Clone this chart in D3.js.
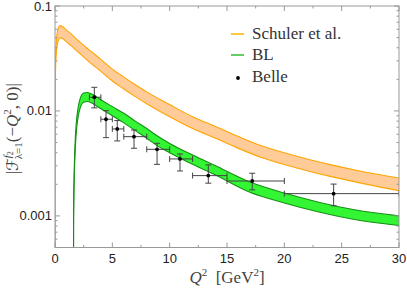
<!DOCTYPE html>
<html>
<head>
<meta charset="utf-8">
<script src="https://cdn.jsdelivr.net/npm/d3@7"></script>
<style>
  body { margin: 0; background: #fff; }
  svg { display: block; }
</style>
</head>
<body>
<div id="chart"></div>
<script>
// Schuler et al. band (upper / lower edge)
const schulerQ2 = [0, 0.02, 0.05, 0.1, 0.2, 0.3, 0.45, 0.7, 1.0, 1.5, 2, 3, 4, 5, 6, 7, 8, 10, 12, 14, 16, 18, 21, 24, 27, 30];
const schulerUpper = [0.00001, 0.020, 0.032, 0.044, 0.056, 0.062, 0.065, 0.063, 0.059, 0.053, 0.047, 0.038, 0.031, 0.025, 0.021, 0.0178, 0.0152, 0.0115, 0.0088, 0.0071, 0.0057, 0.00465, 0.00372, 0.00308, 0.00262, 0.00230];
const schulerLower = [0.00001, 0.015, 0.0245, 0.034, 0.043, 0.0475, 0.0497, 0.0487, 0.0455, 0.041, 0.0365, 0.0292, 0.0238, 0.0193, 0.0162, 0.0137, 0.0117, 0.0088, 0.0068, 0.0055, 0.0044, 0.00360, 0.00288, 0.00238, 0.00202, 0.00174];

// BL band
const blQ2 = [1.6, 1.62, 1.66, 1.74, 1.85, 2.0, 2.2, 2.5, 2.8, 3.2, 3.6, 4, 5, 6, 7, 8, 9, 10, 12, 14, 17, 20, 23, 26, 30];
const blUpper = [0.00001, 0.0010, 0.0022, 0.0046, 0.0075, 0.0105, 0.0132, 0.0148, 0.0150, 0.0145, 0.0137, 0.0128, 0.0110, 0.0095, 0.0080, 0.0068, 0.0057, 0.0049, 0.0038, 0.0030, 0.0021, 0.00165, 0.00135, 0.00115, 0.00100];
const blLower = [0.00001, 0.0008, 0.0018, 0.0037, 0.0061, 0.0085, 0.0107, 0.0121, 0.0123, 0.0119, 0.0112, 0.0105, 0.0090, 0.0077, 0.0065, 0.0055, 0.0046, 0.0040, 0.0031, 0.00245, 0.00168, 0.00133, 0.00109, 0.00093, 0.00081];

// Belle data
const belleQ2 = [3.43, 4.45, 5.43, 6.89, 8.9, 10.9, 13.37, 17.2, 24.3];
const belleVal = [0.0135, 0.00834, 0.00674, 0.00569, 0.00431, 0.00349, 0.00242, 0.00215, 0.00163];
const belleErrLo = [0.0107, 0.00557, 0.00518, 0.00441, 0.0031, 0.00268, 0.00205, 0.00177, 0.00125];
const belleErrHi = [0.0168, 0.01007, 0.0081, 0.00658, 0.00492, 0.00389, 0.00306, 0.00255, 0.00201];
const belleBinLo = [3, 4, 5, 6, 8, 10, 12, 15, 20];
const belleBinHi = [4, 5, 6, 8, 10, 12, 15, 20, 30];

const xTicks = [0, 5, 10, 15, 20, 25, 30];
const yTicks = [0.001, 0.01, 0.1];
const yTickLabels = ['0.001', '0.01', '0.1'];

const W = 407, H = 291;
const margin = {top: 6, right: 8, bottom: 43.5, left: 55};

const svg = d3.select('#chart').append('svg')
  .attr('width', W).attr('height', H);

const x = d3.scaleLinear().domain([0, 30]).range([margin.left, W - margin.right]);
const y = d3.scaleLog().domain([0.0005, 0.1]).range([H - margin.bottom, margin.top]);

svg.append('clipPath').attr('id', 'plot-clip')
  .append('rect')
  .attr('x', x(0)).attr('y', y(0.1))
  .attr('width', x(30) - x(0)).attr('height', y(0.0005) - y(0.1));

const plot = svg.append('g').attr('clip-path', 'url(#plot-clip)');

function band(q2, up, lo, fill, stroke) {
  const rows = q2.map((q, i) => ({q, up: up[i], lo: lo[i]}));
  const area = d3.area()
    .x(d => x(d.q)).y0(d => y(d.lo)).y1(d => y(d.up))
    .curve(d3.curveMonotoneX);
  plot.append('path').datum(rows)
    .attr('d', area).attr('fill', fill).attr('stroke', 'none');
  ['up', 'lo'].forEach(k => {
    plot.append('path').datum(rows)
      .attr('d', d3.line().x(d => x(d.q)).y(d => y(d[k])).curve(d3.curveMonotoneX))
      .attr('fill', 'none').attr('stroke', stroke).attr('stroke-width', 1.1);
  });
}

band(schulerQ2, schulerUpper, schulerLower, '#ffcc99', '#ffa500');
band(blQ2, blUpper, blLower, '#33f533', '#159015');

// Belle error bars
const belle = belleQ2.map((q, i) => ({
  q, v: belleVal[i], lo: belleErrLo[i], hi: belleErrHi[i], b0: belleBinLo[i], b1: belleBinHi[i]
}));
const eb = plot.append('g').attr('stroke', '#444').attr('stroke-width', 1);
const cap = 3;
belle.forEach(d => {
  eb.append('line').attr('x1', x(d.q)).attr('x2', x(d.q)).attr('y1', y(d.lo)).attr('y2', y(d.hi));
  eb.append('line').attr('x1', x(d.b0)).attr('x2', x(d.b1)).attr('y1', y(d.v)).attr('y2', y(d.v));
  [d.lo, d.hi].forEach(v => eb.append('line')
    .attr('x1', x(d.q) - cap).attr('x2', x(d.q) + cap).attr('y1', y(v)).attr('y2', y(v)));
  [d.b0, d.b1].forEach(b => eb.append('line')
    .attr('x1', x(b)).attr('x2', x(b)).attr('y1', y(d.v) - cap).attr('y2', y(d.v) + cap));
});
plot.selectAll('circle.belle').data(belle).enter().append('circle')
  .attr('class', 'belle')
  .attr('cx', d => x(d.q)).attr('cy', d => y(d.v)).attr('r', 1.9).attr('fill', '#000');

// Frame
const frameColor = '#999';
svg.append('rect')
  .attr('x', x(0)).attr('y', y(0.1))
  .attr('width', x(30) - x(0)).attr('height', y(0.0005) - y(0.1))
  .attr('fill', 'none').attr('stroke', frameColor).attr('stroke-width', 1);

// Frame ticks
const tk = svg.append('g').attr('stroke', frameColor).attr('stroke-width', 1);
const xMinor = d3.range(0, 30.01, 2.5);
xMinor.forEach(v => {
  const len = v % 5 === 0 ? 5 : 2.5;
  tk.append('line').attr('x1', x(v)).attr('x2', x(v)).attr('y1', y(0.0005)).attr('y2', y(0.0005) - len);
  tk.append('line').attr('x1', x(v)).attr('x2', x(v)).attr('y1', y(0.1)).attr('y2', y(0.1) + len);
});
const yMinor = [];
[0.0001, 0.001, 0.01].forEach(dec => { for (let m = 1; m < 10; m++) { const v = dec * m; if (v >= 0.0005 && v <= 0.1) yMinor.push(v); } });
yMinor.push(0.1);
yMinor.forEach(v => {
  const major = yTicks.some(t => Math.abs(t - v) / t < 1e-6);
  const len = major ? 5 : 2.5;
  tk.append('line').attr('x1', x(0)).attr('x2', x(0) + len).attr('y1', y(v)).attr('y2', y(v));
  tk.append('line').attr('x1', x(30)).attr('x2', x(30) - len).attr('y1', y(v)).attr('y2', y(v));
});

// Tick labels
const tickFont = '"Liberation Sans", Arial, sans-serif';
svg.append('g').selectAll('text').data(xTicks).enter().append('text')
  .attr('x', d => x(d)).attr('y', y(0.0005) + 15)
  .attr('text-anchor', 'middle').attr('font-family', tickFont).attr('font-size', 13)
  .attr('fill', '#222').text(d => d);
svg.append('g').selectAll('text').data(yTicks).enter().append('text')
  .attr('x', x(0) - 3).attr('y', d => y(d) + 4.5)
  .attr('text-anchor', 'end').attr('font-family', tickFont).attr('font-size', 13)
  .attr('fill', '#222').text((d, i) => yTickLabels[i]);

// Axis labels
const xl = svg.append('text').attr('x', (x(0) + x(30)) / 2).attr('y', 283)
  .attr('text-anchor', 'middle').attr('font-family', '"Liberation Serif", serif')
  .attr('font-size', 17).attr('fill', '#444');
xl.append('tspan').attr('font-style', 'italic').text('Q');
xl.append('tspan').attr('font-size', 11).attr('dy', -7).text('2');
xl.append('tspan').attr('dy', 7).text('\u2002[GeV');
xl.append('tspan').attr('font-size', 11).attr('dy', -7).text('2');
xl.append('tspan').attr('dy', 7).text(']');

const yl = svg.append('text')
  .attr('transform', `translate(18,${(y(0.1) + y(0.0005)) / 2 + 2}) rotate(-90)`)
  .attr('text-anchor', 'middle').attr('font-family', '"Liberation Serif", serif')
  .attr('font-size', 17).attr('fill', '#444');
yl.append('tspan').text('|');
yl.append('tspan').attr('font-family', '"DejaVu Sans", sans-serif').attr('font-size', 16).text('\u2131');
yl.append('tspan').attr('font-size', 11).attr('font-style', 'italic').attr('dy', -7).text('f');
yl.append('tspan').attr('font-size', 8).attr('dy', 2).text('2');
yl.append('tspan').attr('font-size', 11).attr('dx', -8).attr('dy', 9).text('\u03bb=1');
yl.append('tspan').attr('dy', -4).text('(\u2212');
yl.append('tspan').attr('font-style', 'italic').text('Q');
yl.append('tspan').attr('font-size', 11).attr('dy', -7).text('2');
yl.append('tspan').attr('dy', 7).text(', 0)|');

// Legend
const legend = svg.append('g').attr('font-family', '"Liberation Serif", serif').attr('font-size', 17).attr('fill', '#333');
const legendItems = [
  {label: 'Schuler et al.', type: 'line', color: '#ffb300', yy: 34},
  {label: 'BL', type: 'line', color: '#33bb33', yy: 55},
  {label: 'Belle', type: 'dot', color: '#000', yy: 77}
];
legendItems.forEach(d => {
  if (d.type === 'line') {
    legend.append('line').attr('x1', 231).attr('x2', 244).attr('y1', d.yy).attr('y2', d.yy)
      .attr('stroke', d.color).attr('stroke-width', 1.5);
  } else {
    legend.append('circle').attr('cx', 238).attr('cy', d.yy + 1).attr('r', 1.9).attr('fill', d.color);
  }
  legend.append('text').attr('x', 252).attr('y', d.yy + 5).text(d.label);
});
</script>
</body>
</html>
